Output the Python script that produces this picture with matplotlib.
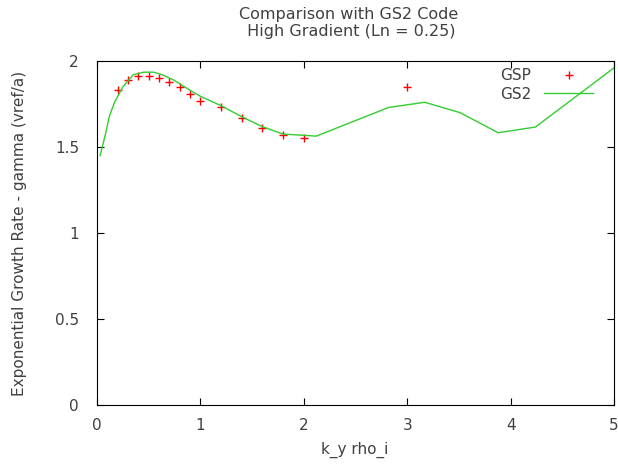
import matplotlib
matplotlib.use("Agg")
import matplotlib.pyplot as plt

# GSP results (red crosses)
gsp_k = [0.2, 0.3, 0.4, 0.5, 0.6, 0.7, 0.8, 0.9, 1.0, 1.2, 1.4, 1.6, 1.8, 2.0, 3.0]
gsp_gamma = [1.83, 1.89, 1.915, 1.91, 1.90, 1.876, 1.847, 1.806, 1.77, 1.73, 1.67, 1.61, 1.57, 1.55, 1.847]

# GS2 reference (green line)
gs2_k = [0.03, 0.08, 0.12, 0.17, 0.25, 0.35, 0.45, 0.55, 0.63, 0.74, 0.9, 1.0,
         1.2, 1.4, 1.6, 1.8, 2.0, 2.12, 2.82, 3.17, 3.51, 3.88, 4.24, 5.0]
gs2_gamma = [1.45, 1.57, 1.68, 1.76, 1.85, 1.92, 1.935, 1.935, 1.92, 1.89, 1.83, 1.795,
             1.74, 1.676, 1.618, 1.575, 1.568, 1.563, 1.73, 1.76, 1.70, 1.583, 1.616, 1.96]

txt = '#404040'
plt.rcParams['font.family'] = ['DejaVu Sans']
plt.rcParams['font.size'] = 11

W, H = 618, 466
fig = plt.figure(figsize=(W / 100, H / 100), dpi=100)
ax = fig.add_axes([97 / W, 1 - 405 / H, 517 / W, 344 / H])

ax.plot(gsp_k, gsp_gamma, '+', color='red', markersize=6, markeredgewidth=1, label='GSP')
ax.plot(gs2_k, gs2_gamma, '-', color='#33cc33', linewidth=1, label='GS2')

ax.set_xlim(0, 5)
ax.set_ylim(0, 2)
ax.set_xticks([0, 1, 2, 3, 4, 5])
ax.set_yticks([0, 0.5, 1, 1.5, 2])
ax.set_yticklabels(['0', '0.5', '1', '1.5', '2'])
ax.tick_params(direction='in', top=True, right=True, length=5, colors='black',
               labelcolor=txt, labelsize=11)
ax.tick_params(axis='x', pad=9)
ax.tick_params(axis='y', pad=13)

# labels and title placed like the gnuplot original
fig.text(355 / W, 1 - 450 / H, 'k_y rho_i', color=txt, ha='center', va='center', fontsize=11)
fig.text(20 / W, 1 - 233 / H, 'Exponential Growth Rate - gamma (vref/a)', color=txt,
         ha='center', va='center', rotation=90, fontsize=11)
fig.text(349 / W, 1 - 23 / H, 'Comparison with GS2 Code\n High Gradient (Ln = 0.25)',
         color=txt, ha='center', va='center', multialignment='center',
         fontsize=11.5, linespacing=1.15)

leg = ax.legend(loc='upper right', bbox_to_anchor=(593 / W, 1 - 68 / H),
                bbox_transform=fig.transFigure, frameon=False, markerfirst=False,
                handlelength=3.2, handletextpad=0.85, fontsize=11,
                borderaxespad=0, borderpad=0, labelspacing=0.25)
for t in leg.get_texts():
    t.set_color(txt)

fig.savefig('out.png', dpi=100)
